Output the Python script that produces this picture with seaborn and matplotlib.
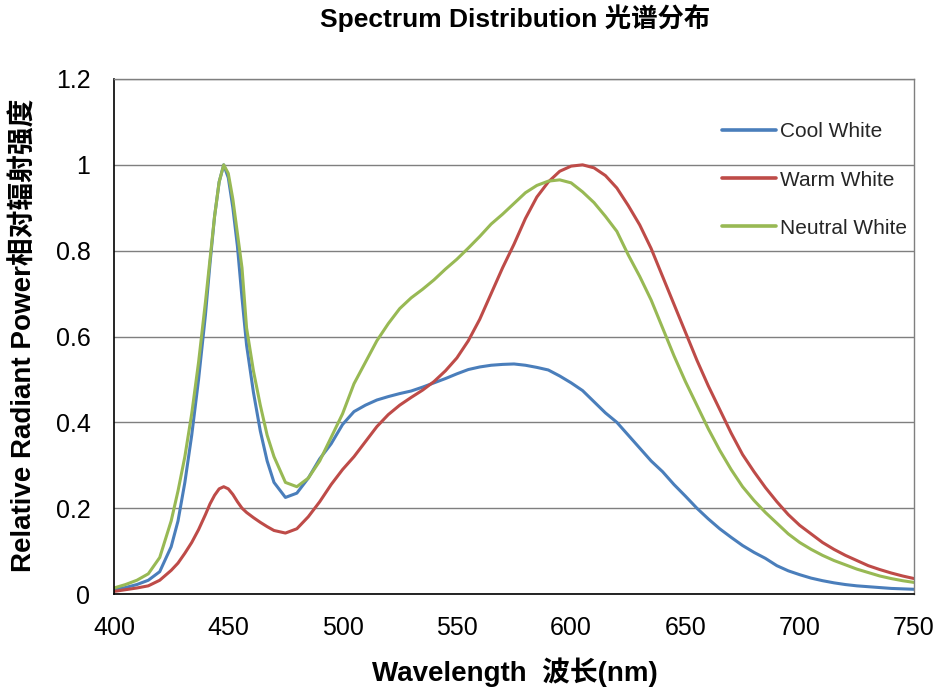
import matplotlib
matplotlib.use("Agg")
import matplotlib.pyplot as plt
import numpy as np
import pandas as pd
import seaborn as sns

# Wavelength samples (nm) and relative radiant power of each LED white
wavelength = [
    400, 405, 410, 415, 420, 425, 428, 431, 434, 437, 440, 442, 444, 446, 448,
    450, 452, 454, 456, 458, 461, 464, 467, 470, 475, 480, 485, 490, 495, 500,
    505, 510, 515, 520, 525, 530, 535, 540, 545, 550, 555, 560, 565, 570, 575,
    580, 585, 590, 595, 600, 605, 610, 615, 620, 625, 630, 635, 640, 645, 650,
    655, 660, 665, 670, 675, 680, 685, 690, 695, 700, 705, 710, 715, 720, 725,
    730, 735, 740, 745, 750,
]

cool_white = [
    0.010, 0.015, 0.022, 0.032, 0.052, 0.110, 0.170, 0.260, 0.370, 0.500, 0.650, 0.770, 0.880, 0.960, 1.000,
    0.970, 0.900, 0.810, 0.690, 0.580, 0.470, 0.380, 0.310, 0.260, 0.225, 0.235, 0.270, 0.315, 0.350, 0.395,
    0.425, 0.440, 0.452, 0.460, 0.467, 0.473, 0.482, 0.492, 0.502, 0.513, 0.523, 0.529, 0.533, 0.535, 0.536,
    0.533, 0.528, 0.522, 0.508, 0.492, 0.474, 0.448, 0.422, 0.400, 0.370, 0.340, 0.310, 0.285, 0.255, 0.228,
    0.200, 0.175, 0.152, 0.132, 0.113, 0.097, 0.083, 0.066, 0.054, 0.045, 0.037, 0.031, 0.026, 0.022, 0.019,
    0.017, 0.015, 0.013, 0.012, 0.011,
]

warm_white = [
    0.006, 0.010, 0.014, 0.019, 0.032, 0.055, 0.072, 0.095, 0.120, 0.150, 0.185, 0.210, 0.230, 0.245, 0.250,
    0.245, 0.232, 0.215, 0.200, 0.190, 0.178, 0.167, 0.157, 0.148, 0.142, 0.152, 0.180, 0.215, 0.255, 0.290,
    0.320, 0.355, 0.390, 0.418, 0.440, 0.458, 0.475, 0.495, 0.520, 0.550, 0.590, 0.640, 0.700, 0.760, 0.815,
    0.875, 0.925, 0.960, 0.985, 0.997, 1.000, 0.993, 0.975, 0.946, 0.905, 0.860, 0.805, 0.740, 0.675, 0.610,
    0.545, 0.485, 0.430, 0.375, 0.325, 0.285, 0.248, 0.215, 0.185, 0.160, 0.140, 0.120, 0.104, 0.090, 0.078,
    0.066, 0.057, 0.049, 0.042, 0.036,
]

neutral_white = [
    0.014, 0.022, 0.032, 0.047, 0.085, 0.170, 0.240, 0.320, 0.420, 0.540, 0.680, 0.780, 0.880, 0.960, 1.000,
    0.980, 0.920, 0.840, 0.760, 0.620, 0.520, 0.440, 0.370, 0.320, 0.260, 0.250, 0.270, 0.310, 0.365, 0.420,
    0.490, 0.540, 0.590, 0.630, 0.665, 0.690, 0.710, 0.732, 0.757, 0.780, 0.806, 0.833, 0.862, 0.885, 0.910,
    0.935, 0.952, 0.962, 0.965, 0.958, 0.937, 0.912, 0.880, 0.845, 0.790, 0.740, 0.685, 0.620, 0.555, 0.495,
    0.440, 0.385, 0.335, 0.290, 0.250, 0.218, 0.190, 0.165, 0.140, 0.120, 0.104, 0.090, 0.078, 0.068, 0.058,
    0.050, 0.042, 0.036, 0.031, 0.027,
]

series_names = ["Cool White", "Warm White", "Neutral White"]
series_colors = ["#4A7EBB", "#BE4B48", "#98B954"]

x_ticks = [400, 450, 500, 550, 600, 650, 700, 750]
y_ticks = [0, 0.2, 0.4, 0.6, 0.8, 1.0, 1.2]
y_tick_labels = ["0", "0.2", "0.4", "0.6", "0.8", "1", "1.2"]

# Long-form table for seaborn
frames = []
for name, values in zip(series_names, [cool_white, warm_white, neutral_white]):
    frames.append(pd.DataFrame({"wavelength": wavelength, "power": values, "series": name}))
df = pd.concat(frames, ignore_index=True)

sns.set_theme(style="white")
plt.rcParams["font.family"] = ["Liberation Sans", "Noto Sans CJK SC", "DejaVu Sans"]

fig = plt.figure(figsize=(9.4, 6.95), dpi=100)
ax = fig.add_axes([114 / 940, 1 - 594 / 695, 800 / 940, 515 / 695])

sns.lineplot(
    data=df, x="wavelength", y="power", hue="series",
    hue_order=series_names, palette=series_colors,
    linewidth=2.2, ax=ax, sort=False, estimator=None,
)

ax.set_xlim(400, 750)
ax.set_ylim(0, 1.2)
ax.set_xticks(x_ticks)
ax.set_xticklabels([str(t) for t in x_ticks])
ax.set_yticks(y_ticks)
ax.set_yticklabels(y_tick_labels)
ax.tick_params(axis="both", length=0, labelsize=18, colors="black")
ax.tick_params(axis="x", pad=16)
ax.tick_params(axis="y", pad=17)

# Horizontal gridlines only
ax.yaxis.grid(True, color="#7f7f7f", linewidth=1.0)
ax.xaxis.grid(False)
ax.set_axisbelow(True)

for side in ["left", "bottom"]:
    ax.spines[side].set_color("black")
    ax.spines[side].set_linewidth(1.2)
for side in ["top", "right"]:
    ax.spines[side].set_color("#7f7f7f")
    ax.spines[side].set_linewidth(1.0)

ax.set_xlabel("Wavelength  波长(nm)", fontsize=20, fontweight="bold", color="black")
ax.xaxis.set_label_coords(0.501, -0.124)
ax.set_ylabel("Relative Radiant Power相对辐射强度", fontsize=20, fontweight="bold", color="black")
ax.yaxis.set_label_coords(-0.095, 0.503)

fig.text(515 / 940, 1 - 18 / 695, "Spectrum Distribution 光谱分布",
         ha="center", va="center", fontsize=19, fontweight="bold", color="black")

leg = ax.legend(
    loc="upper left", bbox_to_anchor=(0.749, 0.932), frameon=False,
    fontsize=15, handlelength=2.6, handletextpad=0.2, labelspacing=1.4,
    borderaxespad=0,
)
for line in leg.get_lines():
    line.set_linewidth(2.6)

fig.savefig("out.png", dpi=100)
